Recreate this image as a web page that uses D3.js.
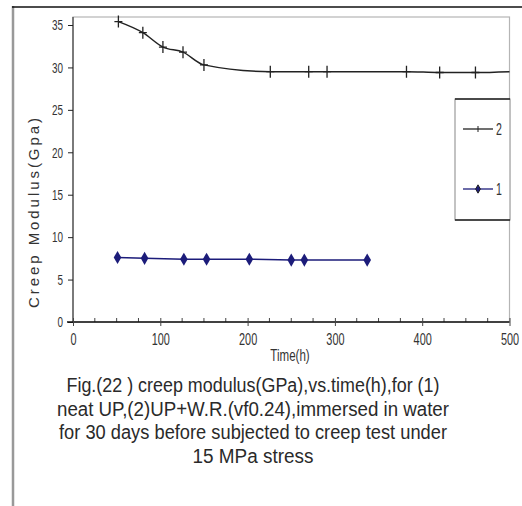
<!DOCTYPE html>
<html>
<head>
<meta charset="utf-8">
<script src="https://cdn.jsdelivr.net/npm/d3@7"></script>
<style>
  body { margin: 0; background: #fff; }
  svg { display: block; }
  text { font-family: "Liberation Sans", Arial, sans-serif; }
</style>
</head>
<body>
<div id="chart"></div>
<script>
// series 2: UP + W.R. (vf 0.24)
const timeUPWR = [52, 80, 103, 126, 150, 226, 270, 291, 382, 420, 461, 500];
const modulusUPWR = [35.4, 34.1, 32.4, 31.8, 30.3, 29.5, 29.5, 29.5, 29.5, 29.4, 29.4, 29.5];
// series 1: neat UP
const timeUP = [51, 82, 127, 153, 202, 250, 265, 337];
const modulusUP = [7.6, 7.5, 7.4, 7.4, 7.4, 7.3, 7.3, 7.3];

const xTicks = [0, 100, 200, 300, 400, 500];
const yTicks = [0, 5, 10, 15, 20, 25, 30, 35];
const legendLabels = ["2", "1"];
const captionLines = [
  "Fig.(22 ) creep modulus(GPa),vs.time(h),for  (1)",
  "neat UP,(2)UP+W.R.(vf0.24),immersed in water",
  "for 30 days before subjected to creep test under",
  "15 MPa stress",
];
const captionWidths = [373, 392, 388, 121];

const width = 522, height = 506;
const plotTop = 17;

const x = d3.scaleLinear().domain([0, 500]).range([73, 509.5]);
const y = d3.scaleLinear().domain([0, 35]).range([322, 25]);

const svg = d3.select("#chart").append("svg")
  .attr("width", width).attr("height", height);

// squeeze text horizontally to mimic a narrow face
function narrow(sel, k) {
  sel.each(function () {
    const len = this.getComputedTextLength();
    d3.select(this).attr("textLength", len * k).attr("lengthAdjust", "spacingAndGlyphs");
  });
}

// outer frame
svg.append("line").attr("x1", 13).attr("x2", 13).attr("y1", 6).attr("y2", height)
  .attr("stroke", "#999").attr("stroke-width", 2.5);
svg.append("line").attr("x1", 12).attr("x2", width).attr("y1", 7).attr("y2", 7)
  .attr("stroke", "#111").attr("stroke-width", 1.5);

// plot area border
svg.append("rect")
  .attr("x", x(0)).attr("y", plotTop)
  .attr("width", x(500) - x(0)).attr("height", y(0) - plotTop)
  .attr("fill", "none").attr("stroke", "#b5b5b5").attr("stroke-width", 1.2);

// y axis
svg.append("g").attr("transform", `translate(${x(0)},0)`)
  .call(d3.axisLeft(y).tickValues(yTicks).tickSize(5).tickPadding(5))
  .call((g) => g.select(".domain").attr("stroke", "#222").attr("d", `M0,${plotTop}V${y(0)}`))
  .call((g) => g.selectAll(".tick line").attr("stroke", "#222"))
  .call((g) => g.selectAll(".tick text")
    .attr("font-family", null).attr("font-size", 15).attr("fill", "#333")
    .call(narrow, 0.66));

// x axis: minor ticks every 25 above the line, major ticks crossing
const gX = svg.append("g").attr("transform", `translate(0,${y(0)})`);
gX.selectAll(".minor")
  .data(d3.range(25, 500, 25).filter((d) => d % 100 !== 0))
  .join("line").attr("class", "minor")
  .attr("x1", (d) => x(d)).attr("x2", (d) => x(d))
  .attr("y1", 0).attr("y2", -4)
  .attr("stroke", "#444");
gX.call(d3.axisBottom(x).tickValues(xTicks).tickSize(4).tickPadding(7))
  .call((g) => g.select(".domain").attr("stroke", "#111").attr("stroke-width", 1.5).attr("d", `M${x(0) - 6},0H${x(500)}`))
  .call((g) => g.selectAll(".tick line").attr("y1", -4).attr("stroke", "#444"))
  .call((g) => g.selectAll(".tick text")
    .attr("font-family", null).attr("font-size", 16.5).attr("fill", "#333")
    .call(narrow, 0.66));

// axis titles
svg.append("text")
  .attr("transform", `translate(39,213) rotate(-90)`)
  .attr("text-anchor", "middle")
  .attr("font-size", 15).attr("fill", "#333")
  .attr("textLength", 190)
  .text("Creep Modulus(Gpa)");
svg.append("text")
  .attr("x", 290).attr("y", 361)
  .attr("text-anchor", "middle")
  .attr("font-size", 16.5).attr("fill", "#333")
  .text("Time(h)")
  .call(narrow, 0.7);

const line = d3.line().x((d) => x(d[0])).y((d) => y(d[1]));

// series 2
const dataUPWR = timeUPWR.map((t, i) => [t, modulusUPWR[i]]);
svg.append("path").datum(dataUPWR)
  .attr("d", line.curve(d3.curveMonotoneX))
  .attr("fill", "none").attr("stroke", "#222").attr("stroke-width", 1.5);
svg.append("g").selectAll("path").data(dataUPWR.slice(0, -1)).join("path")
  .attr("transform", (d) => `translate(${x(d[0])},${y(d[1])})`)
  .attr("d", "M0,-6V6M-4,0H4")
  .attr("stroke", "#222").attr("stroke-width", 1.3);

// series 1
const dataUP = timeUP.map((t, i) => [t, modulusUP[i]]);
svg.append("path").datum(dataUP)
  .attr("d", line.curve(d3.curveLinear))
  .attr("fill", "none").attr("stroke", "#1c1c7a").attr("stroke-width", 1.5);
svg.append("g").selectAll("path").data(dataUP).join("path")
  .attr("transform", (d) => `translate(${x(d[0])},${y(d[1])})`)
  .attr("d", d3.symbol(d3.symbolDiamond, 50))
  .attr("fill", "#1c1c7a");

// legend
const legend = svg.append("g").attr("transform", "translate(455,99)");
legend.append("rect").attr("width", 55).attr("height", 121)
  .attr("fill", "#fff").attr("stroke", "#888").attr("stroke-width", 1);
legend.append("line").attr("x1", 0).attr("x2", 55).attr("y1", 0).attr("y2", 0)
  .attr("stroke", "#222").attr("stroke-width", 1.5);
legend.append("line").attr("x1", 0).attr("x2", 55).attr("y1", 121).attr("y2", 121)
  .attr("stroke", "#222").attr("stroke-width", 1.5);
const item = legend.selectAll(".item").data(legendLabels).join("g")
  .attr("class", "item")
  .attr("transform", (d, i) => `translate(0,${30 + i * 60})`);
item.append("line").attr("x1", 8).attr("x2", 38)
  .attr("stroke", (d, i) => (i === 0 ? "#222" : "#1c1c7a")).attr("stroke-width", 1.3);
item.append("path")
  .attr("transform", "translate(23,0)")
  .attr("d", (d, i) => (i === 0 ? "M0,-3V3" : d3.symbol(d3.symbolDiamond, 20)()))
  .attr("stroke", "#222").attr("fill", "#1c1c7a");
item.append("text")
  .attr("x", 41).attr("dy", "0.35em")
  .attr("font-size", 16).attr("fill", "#333")
  .text((d) => d)
  .call(narrow, 0.66);

// caption
svg.append("g").selectAll("text").data(captionLines).join("text")
  .attr("x", 253).attr("y", (d, i) => 392 + i * 23.5)
  .attr("text-anchor", "middle")
  .attr("font-size", 20).attr("fill", "#2a2a2a")
  .attr("textLength", (d, i) => captionWidths[i])
  .attr("lengthAdjust", "spacingAndGlyphs")
  .text((d) => d);
</script>
</body>
</html>
